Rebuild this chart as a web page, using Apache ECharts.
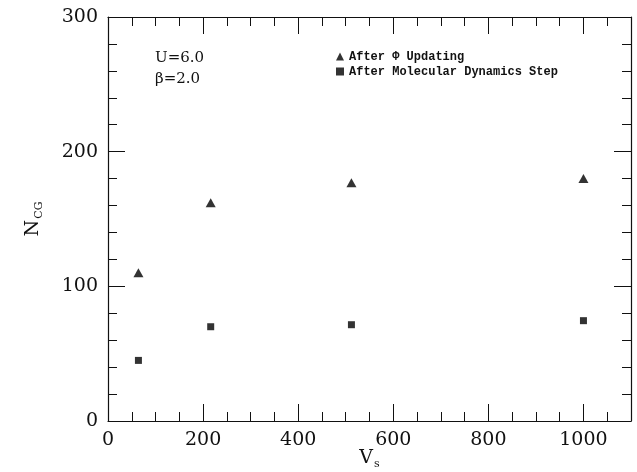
<!DOCTYPE html>
<html>
<head>
<meta charset="utf-8">
<script src="https://cdn.jsdelivr.net/npm/echarts@6/dist/echarts.min.js"></script>
<style>html,body{margin:0;padding:0;background:#fff;}#c{width:637px;height:472px;}</style>
</head>
<body>
<div id="c"></div>
<script>
// Data
const volumes = [64, 216, 512, 1000];              // V_s
const afterPhiUpdating = [110, 162, 177, 180];      // N_CG after Phi updating
const afterMDStep = [45, 70, 71.5, 74.5];           // N_CG after molecular dynamics step
const xTickLabels = [0, 200, 400, 600, 800, 1000];
const yTickLabels = [0, 100, 200, 300];
const seriesNames = ['After \u03A6 Updating', 'After Molecular Dynamics Step'];

const chart = echarts.init(document.getElementById('c'), null, {renderer: 'canvas'});
const serif = 'DejaVu Serif';
const axisColor = '#111';
const MINOR = 9, MAJOR = 17;

function xAxisDef(pos, major, labels) {
  return {
    type: 'value', position: pos, min: 0, max: 1100, interval: major ? 200 : 50,
    axisLine: {show: !major, onZero: false, lineStyle: {color: axisColor, width: 1.2}},
    axisTick: {show: true, inside: true, length: major ? MAJOR : MINOR, lineStyle: {color: axisColor, width: 1}},
    splitLine: {show: false},
    axisLabel: labels ? {
      show: true, margin: 10, color: '#111', fontFamily: serif, fontSize: 19,
      formatter: v => xTickLabels.indexOf(v) >= 0 ? String(v) : ''
    } : {show: false}
  };
}
function yAxisDef(pos, major, labels) {
  return {
    type: 'value', position: pos, min: 0, max: 300, interval: major ? 100 : 20,
    axisLine: {show: !major, onZero: false, lineStyle: {color: axisColor, width: 1.2}},
    axisTick: {show: true, inside: true, length: major ? MAJOR : MINOR, lineStyle: {color: axisColor, width: 1}},
    splitLine: {show: false},
    axisLabel: labels ? {
      show: true, margin: 10, color: '#111', fontFamily: serif, fontSize: 19,
      formatter: v => yTickLabels.indexOf(v) >= 0 ? String(v) : ''
    } : {show: false}
  };
}

const xAxes = [
  xAxisDef('bottom', false, true),
  xAxisDef('bottom', true, false),
  xAxisDef('top', false, false),
  xAxisDef('top', true, false)
];
xAxes[0].name = '{m|V}{s|s}';
xAxes[0].nameLocation = 'middle';
xAxes[0].nameGap = 26;
xAxes[0].nameMoveOverlap = false;
xAxes[0].nameTextStyle = {
  color: '#111', fontFamily: serif, fontSize: 19,
  rich: {m: {fontFamily: serif, fontSize: 19, color: '#111', lineHeight: 22},
         s: {fontFamily: serif, fontSize: 11, color: '#111', lineHeight: 11, padding: [12, 0, 0, 1]}}
};

const yAxes = [
  yAxisDef('left', false, true),
  yAxisDef('left', true, false),
  yAxisDef('right', false, false),
  yAxisDef('right', true, false)
];
yAxes[0].name = '{m|N}{s|CG}';
yAxes[0].nameLocation = 'middle';
yAxes[0].nameRotate = 90;
yAxes[0].nameGap = 64;
yAxes[0].nameTextStyle = {
  color: '#111', fontFamily: serif, fontSize: 19,
  rich: {m: {fontFamily: serif, fontSize: 19, color: '#111', lineHeight: 22},
         s: {fontFamily: serif, fontSize: 11, color: '#111', lineHeight: 11, padding: [12, 0, 0, 1]}}
};

chart.setOption({
  animation: false,
  backgroundColor: '#fff',
  grid: {left: 108, right: 6, top: 17, bottom: 51, containLabel: false, outerBoundsMode: 'none', show: false},
  xAxis: xAxes,
  yAxis: yAxes,
  legend: {
    orient: 'vertical', left: 336, top: 50, padding: 0,
    itemWidth: 8, itemHeight: 8, itemGap: 2,
    textStyle: {fontFamily: 'Liberation Mono', fontWeight: 'bold', fontSize: 12, color: '#111', lineHeight: 13},
    data: [
      {name: seriesNames[0], icon: 'triangle', itemStyle: {color: '#000'}},
      {name: seriesNames[1], icon: 'rect', itemStyle: {color: '#000'}}
    ]
  },
  graphic: [
    {type: 'text', x: 155, y: 58, style: {text: 'U=6.0', fontFamily: serif, fontSize: 15, fill: '#111', verticalAlign: 'middle'}},
    {type: 'text', x: 155, y: 79, style: {text: '\u03B2=2.0', fontFamily: serif, fontSize: 15, fill: '#111', verticalAlign: 'middle'}}
  ],
  series: [
    {
      name: seriesNames[0], type: 'scatter', xAxisIndex: 0, yAxisIndex: 0,
      symbol: 'triangle', symbolSize: [10, 9], itemStyle: {color: '#000'},
      data: volumes.map((v, i) => [v, afterPhiUpdating[i]])
    },
    {
      name: seriesNames[1], type: 'scatter', xAxisIndex: 0, yAxisIndex: 0,
      symbol: 'rect', symbolSize: 7, itemStyle: {color: '#000'},
      data: volumes.map((v, i) => [v, afterMDStep[i]])
    }
  ]
});
</script>
</body>
</html>
